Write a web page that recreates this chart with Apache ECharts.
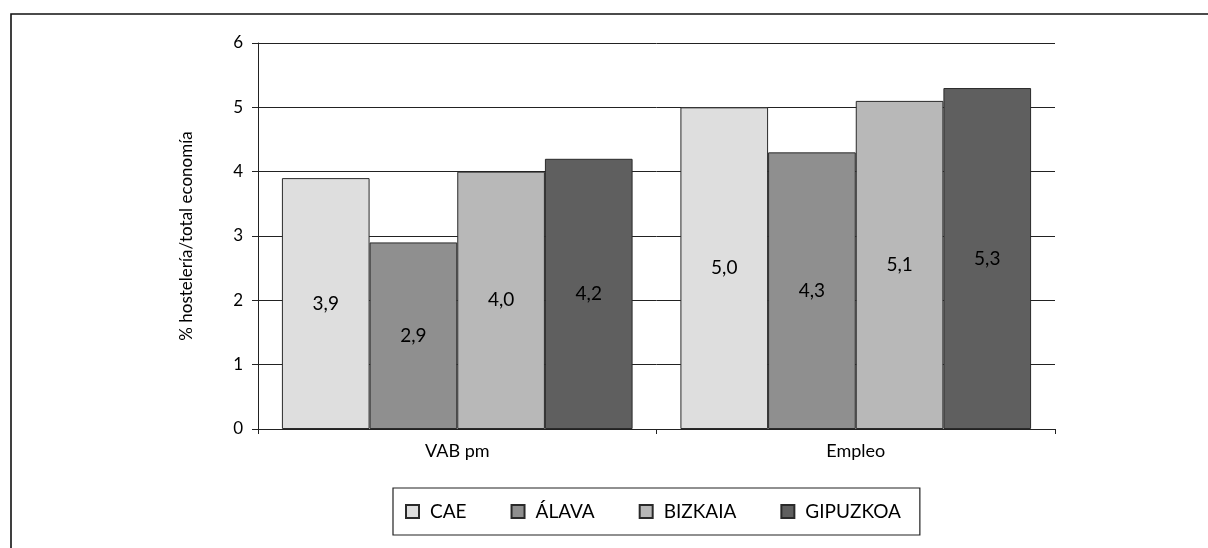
<!DOCTYPE html>
<html>
<head>
<meta charset="utf-8">
<script src="https://cdn.jsdelivr.net/npm/echarts@6/dist/echarts.min.js"></script>
<style>
html,body{margin:0;padding:0;background:#fff;}
#chart{width:1208px;height:548px;}
</style>
</head>
<body>
<div id="chart"></div>
<script>
const categories = ['VAB pm', 'Empleo'];
const seriesNames = ['CAE', 'ÁLAVA', 'BIZKAIA', 'GIPUZKOA'];
const cae = [3.9, 5.0];
const alava = [2.9, 4.3];
const bizkaia = [4.0, 5.1];
const gipuzkoa = [4.2, 5.3];
const yTicks = [0, 1, 2, 3, 4, 5, 6];
const yTitle = '% hostelería/total economía';

const colors = ['#dedede', '#8f8f8f', '#b8b8b8', '#5f5f5f'];
const FONT = 'Lato';
const values = [cae, alava, bizkaia, gipuzkoa];

const chart = echarts.init(document.getElementById('chart'), null, {renderer: 'canvas'});
const option = {
  animation: false,
  backgroundColor: '#fff',
  textStyle: {fontFamily: FONT, color: '#000'},
  graphic: [{
    type: 'rect', silent: true, z: -1,
    shape: {x: 11, y: 14, width: 1400, height: 700},
    style: {fill: 'none', stroke: '#111', lineWidth: 1.6}
  }],
  grid: {left: 258, right: 153, top: 43, bottom: 119},
  legend: {
    data: seriesNames,
    left: 393, top: 488,
    orient: 'horizontal',
    itemWidth: 13, itemHeight: 13, itemGap: 44,
    padding: [14, 19, 14, 12],
    borderColor: '#222', borderWidth: 1.2,
    icon: 'rect',
    textStyle: {fontFamily: FONT, fontSize: 19, color: '#000', padding: [0, 0, 0, 6]}
  },
  xAxis: {
    type: 'category',
    data: categories,
    axisLine: {show: true, lineStyle: {color: '#222', width: 1}},
    axisTick: {show: true, length: 5, lineStyle: {color: '#222'}},
    axisLabel: {fontFamily: FONT, fontSize: 18, color: '#000', margin: 13},
    splitLine: {show: false}
  },
  yAxis: {
    type: 'value',
    min: yTicks[0], max: yTicks[yTicks.length - 1], interval: 1,
    name: yTitle,
    nameLocation: 'middle',
    nameGap: 63,
    nameTextStyle: {fontFamily: FONT, fontSize: 17, color: '#000'},
    axisLine: {show: true, lineStyle: {color: '#222', width: 1}},
    axisTick: {show: true, length: 6, lineStyle: {color: '#222'}},
    axisLabel: {fontFamily: FONT, fontSize: 17, color: '#000', margin: 15},
    splitLine: {show: true, lineStyle: {color: '#222', width: 1}}
  },
  series: seriesNames.map((name, i) => ({
    name: name,
    type: 'bar',
    data: values[i],
    barGap: '0%',
    barCategoryGap: '12%',
    itemStyle: {color: colors[i], borderColor: '#2a2a2a', borderWidth: 1},
    label: {
      show: true,
      position: 'inside',
      fontFamily: FONT, fontSize: 19, color: '#000',
      formatter: p => p.value.toFixed(1).replace('.', ',')
    }
  }))
};
chart.setOption(option);
</script>
</body>
</html>
